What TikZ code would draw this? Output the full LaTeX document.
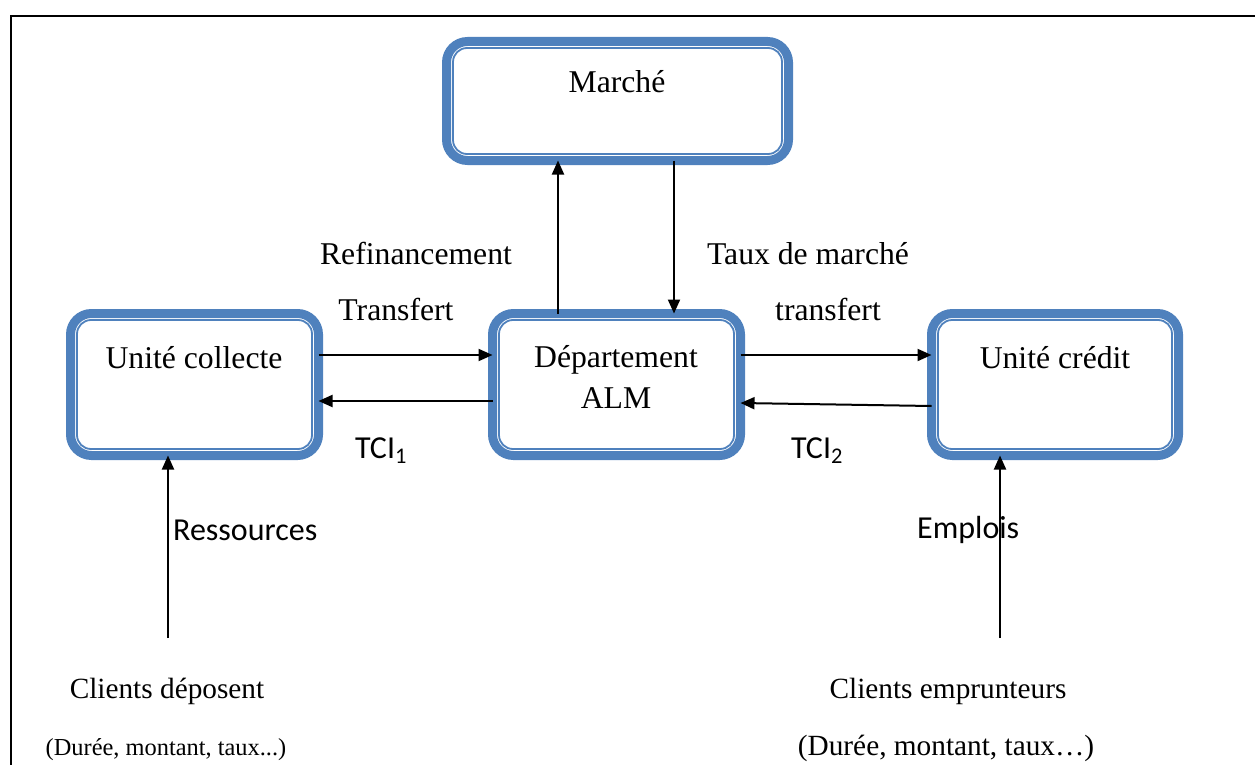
\documentclass[tikz,border=0pt]{standalone}
\usepackage{fontspec}
\setmainfont{Liberation Serif}
\newfontfamily\calibrifont{Carlito}
\usetikzlibrary{arrows.meta,calc}
\definecolor{boxblue}{RGB}{79,129,189}
\begin{document}
\begin{tikzpicture}[x=1pt,y=-1pt,
  box/.style={draw=boxblue, line width=9pt, rounded corners=21pt, outer sep=0pt,
    inner sep=0pt, minimum width=#1},
  inner/.style={draw=boxblue, line width=1.8pt, rounded corners=14pt},
  arr/.style={line width=2pt, -{Triangle[length=14pt,width=12pt]}},
  serif/.style={font=\fontsize{31.7}{36}\selectfont, inner sep=0pt, anchor=base},
  client/.style={font=\fontsize{29.3}{34}\selectfont, inner sep=0pt, anchor=base},
  sans/.style={font=\calibrifont\fontsize{32}{36}\selectfont, inner sep=0pt, anchor=base}]
% page size and the outer frame, which runs past the right and bottom edges
\useasboundingbox (0,0) rectangle (1255,765);
\clip (0,0) rectangle (1255,765);
\draw[line width=2pt] (11,16) rectangle (1280,790);

% boxes: thick blue border with a thin inner line
\node[box=342pt, minimum height=119pt] (marche) at (617.5,101) {};
\node[box=248pt, minimum height=142pt] (dept) at (616.5,384.5) {};
\node[box=248pt, minimum height=142pt] (collecte) at (194.5,384.5) {};
\node[box=247pt, minimum height=142pt] (credit) at (1055,384.5) {};
\foreach \b in {marche,dept,collecte,credit}
  \draw[inner] ($(\b.south west)+(6.5,-6.5)$) rectangle ($(\b.north east)+(-6.5,6.5)$);

% box texts
\node[serif] (tMarche) at (617,93) {Marché};
\node[serif] (tDept1) at (616,367) {Département};
\node[serif] (tDept2) at (616,408) {ALM};
\node[serif] (tCollecte) at (194,368) {Unité collecte};
\node[serif] (tCredit) at (1055,368) {Unité crédit};

% connectors
\draw[arr] ($(collecte.east)+(0,-29.5)$) -- ($(dept.west)+(0,-29.5)$);
\draw[arr] ($(dept.west)+(0,16.5)$) -- ($(collecte.east)+(0,16.5)$);
\draw[arr] ($(dept.east)+(0,-29.5)$) -- ($(credit.west)+(0,-29.5)$);
\draw[arr] ($(credit.west)+(0,21.5)$) -- ($(dept.east)+(0,18.5)$);
\draw[arr] ($(dept.north)+(-58.5,0)$) -- ($(marche.south)+(-59.5,0)$);
\draw[arr] ($(marche.south)+(56.5,0)$) -- ($(dept.north)+(57.5,0)$);
\coordinate (resBase) at (168,638);
\coordinate (empBase) at (1000,638);
\draw[arr] (resBase) -- ($(collecte.south)+(-26.5,0)$);
\draw[arr] (empBase) -- ($(credit.south)+(-55,0)$);

% connector labels
\node[serif] (lRefi) at (416,264) {Refinancement};
\node[serif] (lTransfertL) at (396,320) {Transfert};
\node[serif] (lTaux) at (808,264) {Taux de marché};
\node[serif] (lTransfertR) at (828,320) {transfert};
\node[sans] (lTci1) at (381,458) {TCI\textsubscript{1}};
\node[sans] (lTci2) at (817,458) {TCI\textsubscript{2}};
\node[sans, anchor=base west] (lRes) at (173,540) {Ressources};
\node[sans, anchor=base west] (lEmp) at (917,538) {Emplois};

% client descriptions
\node[client] (cDep1) at (167,698) {Clients déposent};
\node[client, font=\fontsize{24.4}{30}\selectfont] (cDep2) at (166,755) {(Durée, montant, taux...)};
\node[client] (cEmp1) at (948,698) {Clients emprunteurs};
\node[client] (cEmp2) at (946,755) {(Durée, montant, taux…)};
\end{tikzpicture}
\end{document}
